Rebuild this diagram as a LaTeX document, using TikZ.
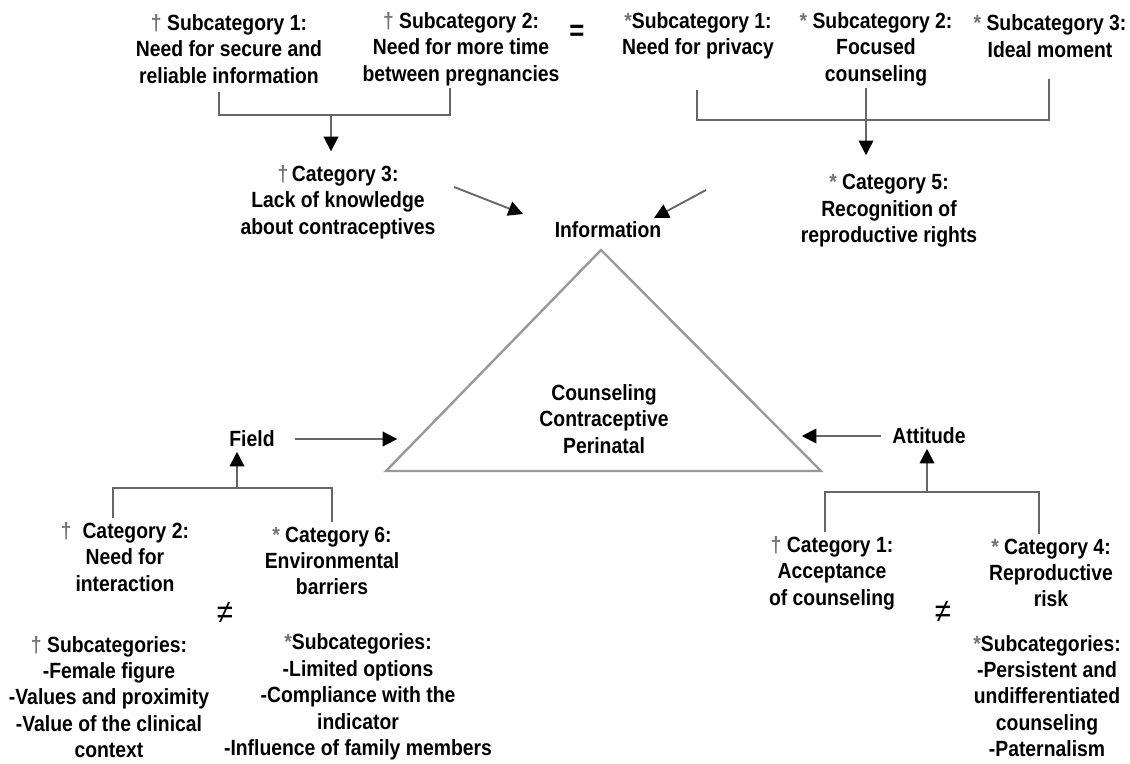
\documentclass[tikz,border=0pt]{standalone}
\usepackage{fontspec}
\setmainfont{Liberation Sans}[FakeStretch=0.88]
\usetikzlibrary{arrows.meta}
\newcommand{\mkdag}{\textcolor{black!55}{†}}
\newcommand{\mkast}{\textcolor{black!55}{*}}

\begin{document}
\begin{tikzpicture}[x=0.75pt,y=-0.75pt,
  every node/.style={align=center,font=\fontsize{16.5}{19.8}\selectfont\bfseries},
  conn/.style={draw=black!60,line width=1.4pt},
  arr/.style={conn,-{Triangle[length=11pt,width=11pt,color=black]}},
  tri/.style={draw=black!40,line width=1.8pt,line join=miter},
  sym/.style={font=\fontsize{25}{27}\selectfont}]
\useasboundingbox (0,0) rectangle (1130,763);
% top row
\node (s1) at (229,49) {\mkdag\ Subcategory 1:\\Need for secure and\\reliable information};
\node (s2) at (461,49) {\mkdag\ Subcategory 2:\\Need for more time\\between pregnancies};
\node[sym,font=\fontsize{22}{24}\selectfont\bfseries] (eq) at (577,33) {=};
\node (r1) at (698,36) {\mkast Subcategory 1:\\Need for privacy};
\node (r2) at (876,49) {\mkast\ Subcategory 2:\\Focused\\counseling};
\node (r3) at (1050,36) {\mkast\ Subcategory 3:\\Ideal moment};
% categories
\node (c3) at (338,202) {\mkdag\,Category 3:\\Lack of knowledge\\about contraceptives};
\node (c5) at (889,211) {\mkast\ Category 5:\\Recognition of\\reproductive rights};
\node (info) at (608,230) {Information};
% triangle
\coordinate (apex) at (601,250);
\coordinate (bl) at (386,471);
\coordinate (br) at (821,471);
\draw[tri] (apex) -- (bl) -- (br) -- cycle;
\node (core) at (604,419) {Counseling\\Contraceptive\\Perinatal};
\node (field) at (252,439) {Field};
\node (att) at (929,436) {Attitude};
% lower left
\node (c2) at (125,557) {\mkdag\ \ Category 2:\\Need for\\interaction};
\node (c6) at (332,561) {\mkast\ Category 6:\\Environmental\\barriers};
\node[sym] (ne1) at (225,613) {≠};
\node (sc2) at (109,697) {\mkdag\ Subcategories:\\-Female figure\\-Values and proximity\\-Value of the clinical\\context};
\node (sc6) at (358,697) {\mkast Subcategories:\\-Limited options\\-Compliance with the\\indicator\\-Influence of family members};
% lower right
\node (c1) at (832,573) {\mkdag\ Category 1:\\Acceptance\\of counseling};
\node (c4) at (1051,573) {\mkast\ Category 4:\\Reproductive\\risk};
\node[sym] (ne2) at (943,612) {≠};
\node (sc4) at (1047,696) {\mkast Subcategories:\\-Persistent and\\undifferentiated\\counseling\\-Paternalism};
% brackets
\coordinate (t1a) at (219,92);
\coordinate (t1b) at (450,88);
\coordinate (t1m) at (331,115);
\draw[conn] (t1a) |- (t1m) -| (t1b);
\draw[arr,shorten >=7pt] (t1m) -- (t1m |- c3.north);
\coordinate (t2a) at (697,90);
\coordinate (t2c) at (866,88);
\coordinate (t2b) at (1049,79);
\coordinate (t2m) at (866,120);
\draw[conn] (t2a) |- (t2m) -| (t2b);
\draw[conn] (t2c) -- (t2m);
\draw[arr,shorten >=11pt] (t2m) -- (t2m |- c5.north);
\coordinate (fm) at (237,488);
\draw[conn] ([xshift=-9pt]c2.north) |- (fm) -| (c6.north);
\draw[arr] (fm) -- (fm |- field.south);
\coordinate (am) at (927,492);
\draw[conn] ([xshift=-5pt]c1.north) |- (am) -| ([xshift=-9pt]c4.north);
\draw[arr] (am) -- (am |- att.south);
% into the triangle
\draw[arr] (c3.east) ++(14,-15) -- ++(69,27);
\draw[arr] (c5.west) ++(-90,-21) -- ++(-52,28);
\draw[arr] (field.east) ++(16,0) -- ++(102,0);
\draw[arr] (att.west) ++(-7,0) -- ++(-79,0);
\end{tikzpicture}
\end{document}
